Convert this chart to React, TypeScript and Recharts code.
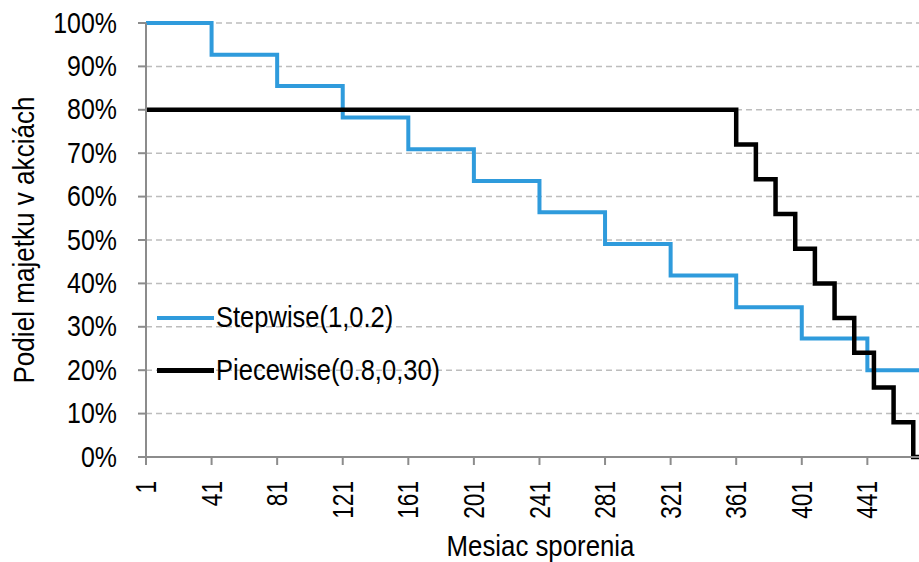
import React from "react";
import { LineChart, Line, XAxis, YAxis, CartesianGrid } from "recharts";

// Stepwise(1,0.2): share of assets in stocks, drops every 40 months
const stepMonths = [1, 41, 81, 121, 161, 201, 241, 281, 321, 361, 401, 441, 480];
const stepValues = [100, 92.7, 85.5, 78.2, 70.9, 63.6, 56.4, 49.1, 41.8, 34.5, 27.3, 20, 20];

// Piecewise(0.8,0,30): flat 80 % then yearly steps down to 0
const pieceMonths = [1, 361, 373, 385, 397, 409, 421, 433, 445, 457, 469, 480];
const pieceValues = [80, 72, 64, 56, 48, 40, 32, 24, 16, 8, 0, 0];

const xTicks = [1, 41, 81, 121, 161, 201, 241, 281, 321, 361, 401, 441];
const yTicks = [0, 10, 20, 30, 40, 50, 60, 70, 80, 90, 100];

const seriesNames = ["Stepwise(1,0.2)", "Piecewise(0.8,0,30)"];
const seriesColors = ["#2f9bdc", "#000000"];
const seriesWidths = [4, 4.5];

const stepData = stepMonths.map((m, i) => ({ month: m, value: stepValues[i] }));
const pieceData = pieceMonths.map((m, i) => ({ month: m, value: pieceValues[i] }));

const FONT = "'Liberation Sans', Arial, sans-serif";
const FS = 29;

// narrow look of the original font: squeeze glyphs horizontally
function XTick({ x, y, payload }: any) {
  return (
    <g transform={`translate(${x}, ${y + 14}) rotate(-90) scale(0.78, 1)`}>
      <text x={0} y={0} textAnchor="end" dominantBaseline="central" fontFamily={FONT} fontSize={FS} fill="#000">
        {payload.value}
      </text>
    </g>
  );
}

function YTick({ x, y, payload }: any) {
  return (
    <g transform={`translate(${x}, ${y}) scale(0.86, 1)`}>
      <text x={0} y={0} textAnchor="end" dominantBaseline="central" fontFamily={FONT} fontSize={FS} fill="#000">
        {`${payload.value}%`}
      </text>
    </g>
  );
}

function XTitle({ viewBox }: any) {
  const cx = viewBox.x + viewBox.width / 2 + 8;
  return (
    <g transform={`translate(${cx}, 556) scale(0.89, 1)`}>
      <text x={0} y={0} textAnchor="middle" fontFamily={FONT} fontSize={FS} fill="#000">
        Mesiac sporenia
      </text>
    </g>
  );
}

function YTitle({ viewBox }: any) {
  const cy = viewBox.y + viewBox.height / 2;
  return (
    <g transform={`translate(24, ${cy}) rotate(-90) scale(0.9, 1)`}>
      <text x={0} y={0} textAnchor="middle" dominantBaseline="central" fontFamily={FONT} fontSize={FS} fill="#000">
        Podiel majetku v akciách
      </text>
    </g>
  );
}

function LegendBox() {
  return (
    <div style={{ position: "absolute", left: 157, top: 291, fontFamily: FONT, fontSize: FS, color: "#000" }}>
      {seriesNames.map((name, i) => (
        <div key={name} style={{ display: "flex", alignItems: "center", height: 53, whiteSpace: "nowrap" }}>
          <span
            style={{
              display: "inline-block",
              width: 57,
              height: seriesWidths[i],
              background: seriesColors[i],
              marginRight: 2,
            }}
          />
          <span style={{ display: "inline-block", transform: "scaleX(0.88)", transformOrigin: "left center" }}>
            {name}
          </span>
        </div>
      ))}
    </div>
  );
}

export default function App() {
  return (
    <div style={{ position: "absolute", left: 0, top: 0, width: 919, height: 562, background: "#fff" }}>
      <LineChart width={919} height={562} margin={{ top: 23, right: 0, left: 0, bottom: 0 }}>
        <CartesianGrid vertical={false} stroke="#bdbdbd" strokeDasharray="6 4" strokeWidth={1.5} />
        <XAxis
          dataKey="month"
          type="number"
          domain={[1, 472.5]}
          allowDataOverflow
          ticks={xTicks}
          interval={0}
          height={105}
          stroke="#8c8c8c"
          strokeWidth={2}
          tickSize={8}
          tick={<XTick />}
          label={<XTitle />}
        />
        <YAxis
          type="number"
          domain={[0, 100]}
          ticks={yTicks}
          interval={0}
          width={146}
          stroke="#8c8c8c"
          strokeWidth={2}
          tickSize={8}
          tickMargin={21}
          tick={<YTick />}
          label={<YTitle />}
        />
        <Line
          data={stepData}
          dataKey="value"
          name={seriesNames[0]}
          type="stepAfter"
          stroke={seriesColors[0]}
          strokeWidth={seriesWidths[0]}
          dot={false}
          isAnimationActive={false}
        />
        <Line
          data={pieceData}
          dataKey="value"
          name={seriesNames[1]}
          type="stepAfter"
          stroke={seriesColors[1]}
          strokeWidth={seriesWidths[1]}
          dot={false}
          isAnimationActive={false}
        />
      </LineChart>
      <LegendBox />
    </div>
  );
}
